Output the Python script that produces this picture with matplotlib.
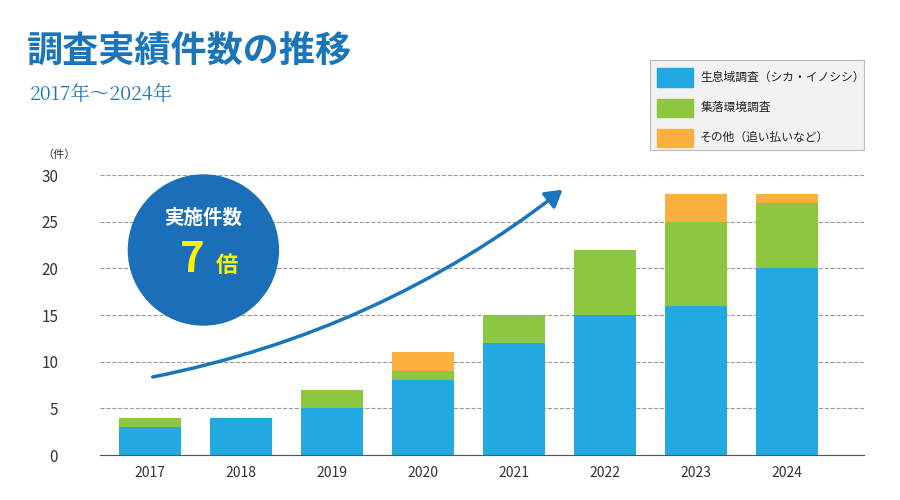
import matplotlib.pyplot as plt
import numpy as np
from matplotlib.patches import Ellipse, FancyArrowPatch, Rectangle

plt.rcParams['font.family'] = ['Noto Sans CJK JP', 'DejaVu Sans']

years = ['2017', '2018', '2019', '2020', '2021', '2022', '2023', '2024']
habitat = [3, 4, 5, 8, 12, 15, 16, 20]
village = [1, 0, 2, 1, 3, 7, 9, 7]
other = [0, 0, 0, 2, 0, 0, 3, 1]
labels = ['生息域調査（シカ・イノシシ）', '集落環境調査', 'その他（追い払いなど）']
colors = ['#22a9e1', '#8dc63f', '#fbb040']

fig = plt.figure(figsize=(9, 5), dpi=100)
ax = fig.add_axes([0.111, 0.09, 0.849, 0.56])
x = np.arange(len(years))
w = 0.68
ax.bar(x, habitat, w, color=colors[0], zorder=2)
ax.bar(x, village, w, bottom=habitat, color=colors[1], zorder=2)
ax.bar(x, other, w, bottom=np.add(habitat, village), color=colors[2], zorder=2)
ax.set_ylim(0, 30)
ax.set_xlim(-0.55, 7.85)
ax.set_yticks(range(0, 31, 5))
ax.set_xticks(x, years)
ax.yaxis.grid(True, ls='--', color='#999999', lw=0.8)
for s in ['top', 'right', 'left']:
    ax.spines[s].set_visible(False)
ax.spines['bottom'].set_color('#555555')
ax.tick_params(length=0, labelsize=11, colors='#333333')
ax.tick_params(axis='y', pad=30)
ax.tick_params(axis='x', pad=8, labelsize=10)
ax.text(-0.075, 1.06, '（件）', transform=ax.transAxes, fontsize=8, color='#333333')

ax.add_patch(FancyArrowPatch((0, 8.3), (4.56, 28.6), connectionstyle='arc3,rad=0.12',
                             arrowstyle='-|>,head_length=10,head_width=6', color='#1a75bb',
                             lw=2.5, zorder=4))

fig.patches.append(Ellipse((0.226, 0.50), 150 / 900, 150 / 500, transform=fig.transFigure,
                           color='#1a6fb8', zorder=5))
fig.text(0.226, 0.564, '実施件数', ha='center', va='center', fontsize=14,
         color='white', weight='bold', zorder=6)
fig.text(0.214, 0.48, '7', ha='center', va='center', fontsize=30, color='#fff200',
         weight='bold', zorder=6)
fig.text(0.252, 0.47, '倍', ha='center', va='center', fontsize=16, color='#fff200',
         weight='bold', zorder=6)

fig.text(0.03, 0.875, '調査実績件数の推移', fontsize=26, color='#1a75bb', weight='bold')
fig.text(0.033, 0.80, '2017年～2024年', fontsize=14, color='#1a75bb',
         family=['Noto Serif CJK JP', 'Noto Sans CJK JP'])

fig.patches.append(Rectangle((0.722, 0.70), 0.238, 0.18, transform=fig.transFigure,
                             facecolor='#f2f2f4', edgecolor='#bbbbbb', lw=0.8))
for i, (lab, c) in enumerate(zip(labels, colors)):
    yy = 0.845 - i * 0.06
    fig.patches.append(Rectangle((0.730, yy - 0.018), 0.04, 0.036, transform=fig.transFigure, color=c))
    fig.text(0.778, yy, lab, va='center', fontsize=8.5, color='#222222')

fig.savefig('out.png')
